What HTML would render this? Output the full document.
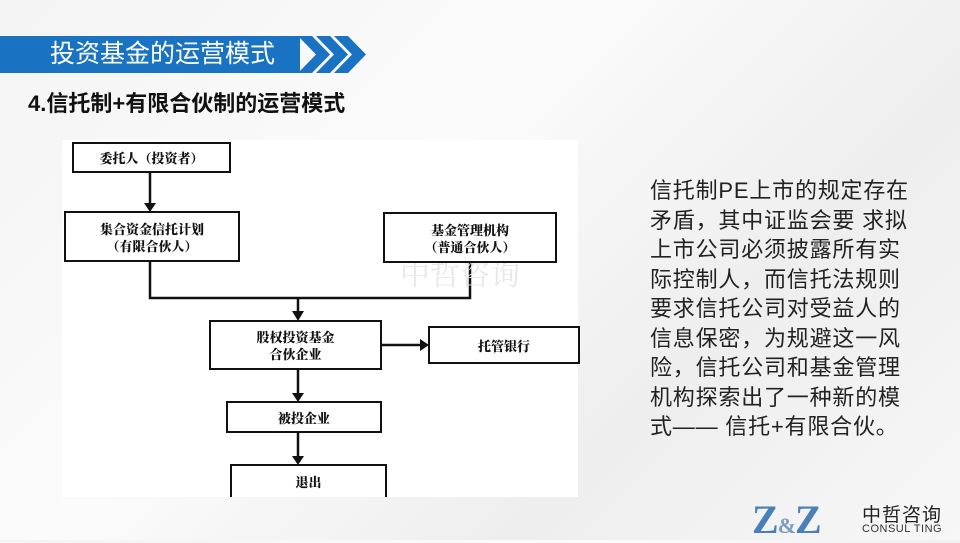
<!DOCTYPE html>
<html><head><meta charset="utf-8"><style>
body{margin:0;width:960px;height:540px;overflow:hidden;position:relative;background:linear-gradient(135deg,#f4f4f4 0%,#fbfbfb 40%,#eeeeee 70%,#f7f7f7 100%);font-family:"Liberation Sans","Noto Sans CJK SC",sans-serif}
.bar{position:absolute;left:0;top:36px;width:300px;height:37px;background:#1a73c2}
.bar span{position:absolute;left:50px;top:2px;color:#fff;font-size:25px;line-height:32px}
.h2{position:absolute;left:28px;top:86px;font-size:22px;font-weight:bold;color:#111}
.img{position:absolute;left:62px;top:140px;width:516px;height:357px;background:#fff}
.b{position:absolute;border:2px solid #111;background:#fff;box-sizing:border-box;font-family:"Noto Serif CJK SC",serif;font-weight:900;font-size:13px;text-align:center;color:#111;display:flex;align-items:center;justify-content:center;line-height:17px}
.r{position:absolute;left:650px;top:176px;font-size:22px;letter-spacing:0.8px;line-height:29.5px;color:#222;white-space:nowrap}
</style></head><body>
<div class="bar"><span>投资基金的运营模式</span></div>
<svg style="position:absolute;left:298px;top:36px" width="70" height="37"><g fill="#1a73c2"><polygon points="0,0 14,0 32,18.5 14,37 0,37 18,18.5"/><polygon points="18,0 32,0 50,18.5 32,37 18,37 36,18.5"/><polygon points="36,0 50,0 68,18.5 50,37 36,37 54,18.5"/></g></svg>
<div class="h2">4.信托制+有限合伙制的运营模式</div>
<div class="img"></div>
<svg style="position:absolute;left:0;top:0" width="960" height="540"><g stroke="#111" stroke-width="2.5" fill="none">
<line x1="150" y1="173" x2="150" y2="204"/>
<polyline points="150,262 150,298 470,298 470,263"/>
<line x1="298" y1="298" x2="298" y2="313"/>
<line x1="382" y1="345" x2="421" y2="345"/>
<line x1="298" y1="370" x2="298" y2="394"/>
<line x1="298" y1="433" x2="298" y2="457"/>
</g><g fill="#111">
<polygon points="144,203 156,203 150,212"/>
<polygon points="292,311 304,311 298,321"/>
<polygon points="420,339 420,351 429,345"/>
<polygon points="292,393 304,393 298,402"/>
<polygon points="292,456 304,456 298,465"/>
</g>
<text x="400" y="285" font-size="30" fill="#e8e8e8" font-family="Noto Serif CJK SC,serif">中哲咨询</text>
</svg>
<div class="b" style="left:72px;top:142px;width:159px;height:31px">委托人（投资者）</div>
<div class="b" style="left:64px;top:211px;width:176px;height:51px">集合资金信托计划<br>（有限合伙人）</div>
<div class="b" style="left:383px;top:212px;width:174px;height:51px">基金管理机构<br>（普通合伙人）</div>
<div class="b" style="left:209px;top:320px;width:173px;height:50px">股权投资基金<br>合伙企业</div>
<div class="b" style="left:428px;top:326px;width:152px;height:38px">托管银行</div>
<div class="b" style="left:226px;top:401px;width:156px;height:32px">被投企业</div>
<div class="b" style="left:230px;top:464px;width:157px;height:33px;border-bottom:none">退出</div>
<div class="r">信托制PE上市的规定存在<br>矛盾，其中证监会要 求拟<br>上市公司必须披露所有实<br>际控制人，而信托法规则<br>要求信托公司对受益人的<br>信息保密，为规避这一风<br>险，信托公司和基金管理<br>机构探索出了一种新的模<br>式—— 信托+有限合伙。</div>
<div style="position:absolute;left:752px;top:496px;font-family:'Liberation Serif',serif;font-size:40px;color:#4a7fb8;letter-spacing:-1px;font-weight:bold">Z<span style="font-size:22px;color:#7a9cc0">&amp;</span>Z</div>
<div style="position:absolute;left:862px;top:500px;font-size:19px;color:#222;letter-spacing:1px">中哲咨询</div>
<div style="position:absolute;left:862px;top:523px;font-size:11px;color:#333;letter-spacing:0.5px">CONSUL TING</div>
</body></html>
